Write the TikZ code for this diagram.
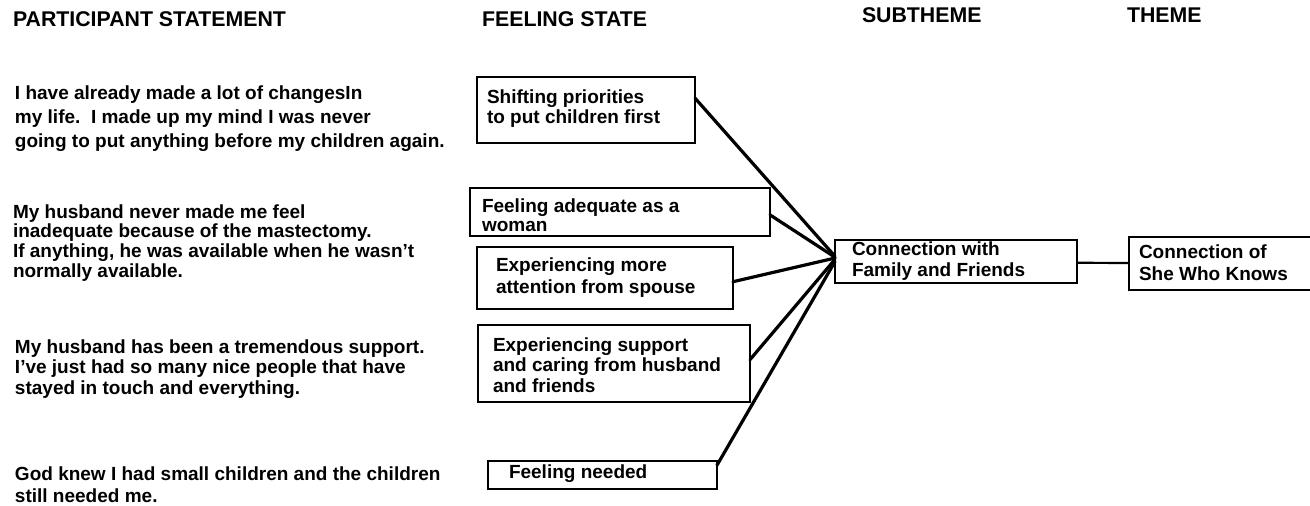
\documentclass[tikz,border=0pt]{standalone}
\usepackage{fontspec}
\setmainfont{Liberation Sans}
\usetikzlibrary{calc}
% stack of left-aligned lines; the block's baseline is that of its first line
\newcommand\rowstack[2]{\vtop{\baselineskip=#1pt\lineskiplimit=-20pt\halign{##\hfil\cr#2\crcr}}}
\begin{document}
\begin{tikzpicture}[x=1pt,y=-1pt,
  every node/.style={inner sep=0pt,outer sep=0pt},
  head/.style={font=\fontsize{21.3}{23}\selectfont\bfseries,anchor=base west},
  says/.style={font=\fontsize{19}{20}\selectfont\bfseries,anchor=base west},
  boxtext/.style={font=\fontsize{19}{20}\selectfont\bfseries,anchor=base west},
  frame/.style={draw,line width=2.2pt,rectangle,anchor=north west},
  link/.style={line width=3.2pt,line cap=round},
  thin link/.style={line width=2.2pt}]
\useasboundingbox (0,0) rectangle (1310,506);
\fill[white] (0,0) rectangle (1310,506);

% column headings
\node[head] (h1) at (13,27) {PARTICIPANT STATEMENT};
\node[head,anchor=base east] (h2) at (647,27) {FEELING STATE};
\node[head] (h3) at (862,23) {SUBTHEME};
\node[head] (h4) at (1127,23) {THEME};

% participant statements
\node[says] (s1) at (15,99) {\rowstack{24}{I have already made a lot of changesIn\cr
my life.\ \ I made up my mind I was never\cr
going to put anything before my children again.}};
\node[says] (s2) at (13,218) {\rowstack{19.7}{My husband never made me feel\cr
inadequate because of the mastectomy.\cr
If anything, he was available when he wasn't\cr
normally available.}};
\node[says] (s3) at (15,353) {\rowstack{20.5}{My husband has been a tremendous support.\cr
I've just had so many nice people that have\cr
stayed in touch and everything.}};
\node[says] (s4) at (15,480) {\rowstack{22}{God knew I had small children and the children\cr
still needed me.}};

% feeling state boxes
\node[frame,minimum width=218pt,minimum height=66pt] (b1) at (477,77) {};
\node[boxtext] (t1) at (487,103) {\rowstack{20}{Shifting priorities\cr to put children first}};
\node[frame,minimum width=300pt,minimum height=48pt] (b2) at (470,188) {};
\node[boxtext] (t2) at (482,212) {\rowstack{19}{Feeling adequate as a\cr woman}};
\node[frame,minimum width=256pt,minimum height=62pt] (b3) at (477,247) {};
\node[boxtext] (t3) at (496,271) {\rowstack{22}{Experiencing more\cr attention from spouse}};
\node[frame,minimum width=272pt,minimum height=77pt] (b4) at (478,325) {};
\node[boxtext] (t4) at (493,351) {\rowstack{20.5}{Experiencing support\cr and caring from husband\cr and friends}};
\node[frame,minimum width=229pt,minimum height=28pt] (b5) at (488,461) {};
\node[boxtext] (t5) at (509,478) {Feeling needed};

% subtheme and theme boxes
\node[frame,minimum width=242pt,minimum height=43pt] (sub) at (835,240) {};
\node[boxtext] (ts) at (852,255) {\rowstack{21}{Connection with\cr Family and Friends}};
\node[frame,minimum width=200pt,minimum height=53pt] (thm) at (1129,237) {};
\node[boxtext] (tt) at (1139,258) {\rowstack{22}{Connection of\cr She Who Knows}};

% connectors from feeling states to the subtheme
\draw[link] ($(b1.north east)!0.32!(b1.south east)$) -- ($(sub.north west)!0.38!(sub.south west)$);
\draw[link] ($(b2.north east)!0.56!(b2.south east)$) -- ($(sub.north west)!0.40!(sub.south west)$);
\draw[link] ($(b3.north east)!0.56!(b3.south east)$) -- ($(sub.north west)!0.42!(sub.south west)$);
\draw[link] ($(b4.north east)!0.45!(b4.south east)$) -- ($(sub.north west)!0.45!(sub.south west)$);
\draw[link] ($(b5.north east)!0.15!(b5.south east)$) -- ($(sub.north west)!0.50!(sub.south west)$);
% subtheme to theme
\draw[thin link] ($(sub.north east)!0.53!(sub.south east)$) -- ($(thm.north west)!0.49!(thm.south west)$);
\end{tikzpicture}
\end{document}
